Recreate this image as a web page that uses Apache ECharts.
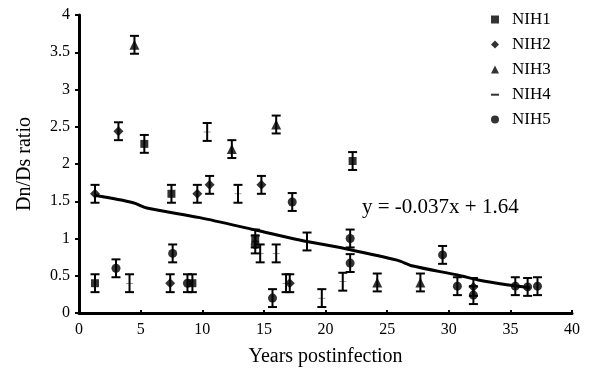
<!DOCTYPE html>
<html>
<head>
<meta charset="utf-8">
<script src="https://cdn.jsdelivr.net/npm/echarts@6/dist/echarts.min.js"></script>
<style>
  html, body { margin: 0; padding: 0; background: #fff; }
  #chart { width: 602px; height: 374px; }
</style>
</head>
<body>
<div id="chart"></div>
<script>
// values
const nih1X = [1.3, 5.3, 7.5, 9.2, 14.3, 22.2];
const nih1Y = [0.4, 2.27, 1.6, 0.4, 1.0, 2.04];
const nih2X = [1.3, 3.2, 7.4, 9.6, 10.6, 14.8, 17.1, 32.0];
const nih2Y = [1.6, 2.44, 0.4, 1.6, 1.72, 1.72, 0.4, 0.35];
const nih3X = [4.5, 12.4, 16.0, 24.2, 27.7];
const nih3Y = [3.6, 2.2, 2.53, 0.41, 0.41];
const nih4X = [4.1, 10.4, 12.9, 14.7, 16.0, 16.8, 18.5, 19.7, 21.4];
const nih4Y = [0.4, 2.43, 1.6, 0.8, 0.8, 0.4, 0.96, 0.2, 0.42];
const nih5X = [3.0, 7.6, 8.8, 14.3, 15.7, 17.3, 22.0, 22.0, 29.5, 30.7, 32.0, 35.4, 36.4, 37.2];
const nih5Y = [0.6, 0.8, 0.4, 0.92, 0.2, 1.49, 1.0, 0.67, 0.78, 0.36, 0.24, 0.36, 0.35, 0.36];
const errSize = 0.12;

// trend line as traced on the picture
const trendX = [1.3, 4.4, 5.5, 9.8, 14.4, 17.9, 22.0, 25.8, 27.1, 30.7, 32.5, 34.7, 36.6];
const trendY = [1.58, 1.48, 1.41, 1.28, 1.11, 0.98, 0.85, 0.71, 0.63, 0.51, 0.44, 0.38, 0.34];

const names = ['NIH1', 'NIH2', 'NIH3', 'NIH4', 'NIH5'];
const xTicks = [0, 5, 10, 15, 20, 25, 30, 35, 40];
const equation = 'y = -0.037x + 1.64';

const FONT = 'Liberation Serif';
const dashIcon = 'path://M0,0M10,10M0,4L10,4L10,6.5L0,6.5Z';
const icons = ['rect', 'diamond', 'triangle', dashIcon, 'circle'];
const sizes = [8, 10, 10, [7, 2], 9];
const sets = [[nih1X, nih1Y], [nih2X, nih2Y], [nih3X, nih3Y], [nih4X, nih4Y], [nih5X, nih5Y]];

function errorBar(params, api) {
  const x = api.value(0);
  const top = api.coord([x, api.value(2)]);
  const bot = api.coord([x, api.value(1)]);
  const w = 4.5;
  const style = { stroke: '#000', lineWidth: 2 };
  return {
    type: 'group',
    children: [
      { type: 'line', shape: { x1: top[0], y1: top[1], x2: bot[0], y2: bot[1] }, style: style },
      { type: 'line', shape: { x1: top[0] - w, y1: top[1], x2: top[0] + w, y2: top[1] }, style: style },
      { type: 'line', shape: { x1: bot[0] - w, y1: bot[1], x2: bot[0] + w, y2: bot[1] }, style: style }
    ]
  };
}

const series = [];
sets.forEach(function (s, i) {
  const xs = s[0], ys = s[1];
  series.push({
    name: names[i] + ' err',
    type: 'custom',
    renderItem: errorBar,
    encode: { x: 0, y: [1, 2] },
    data: xs.map(function (x, k) { return [x, ys[k] - errSize, ys[k] + errSize]; }),
    silent: true,
    z: 2
  });
  series.push({
    name: names[i],
    type: 'scatter',
    symbol: icons[i],
    symbolSize: sizes[i],
    itemStyle: { color: '#000' },
    data: xs.map(function (x, k) { return [x, ys[k]]; }),
    z: 3
  });
});

series.push({
  name: 'trend',
  type: 'line',
  smooth: 0.3,
  symbol: 'none',
  lineStyle: { color: '#000', width: 3 },
  data: trendX.map(function (x, k) { return [x, trendY[k]]; }),
  z: 1
});

const chart = echarts.init(document.getElementById('chart'));
chart.setOption({
  animation: false,
  textStyle: { fontFamily: FONT, color: '#000' },
  grid: { left: 79, right: 30, top: 15, bottom: 61 },
  legend: {
    orient: 'vertical',
    left: 486,
    top: 6,
    itemWidth: 8,
    itemHeight: 8,
    itemGap: 8,
    textStyle: { fontFamily: FONT, fontSize: 17, color: '#000', padding: [0, 0, 0, 8] },
    data: names.map(function (n, i) { return { name: n, icon: icons[i] }; })
  },
  xAxis: {
    type: 'value',
    min: 0,
    max: 40,
    interval: 5,
    name: 'Years postinfection',
    nameLocation: 'middle',
    nameGap: 34,
    nameTextStyle: { fontFamily: FONT, fontSize: 20, color: '#000' },
    axisLine: { lineStyle: { color: '#000', width: 3 } },
    axisTick: { show: true, inside: true, length: 3, lineStyle: { color: '#000', width: 2 } },
    axisLabel: {
      fontFamily: FONT, fontSize: 16, color: '#000', margin: 9,
      formatter: function (v) { return xTicks.indexOf(v) >= 0 ? String(v) : ''; }
    },
    splitLine: { show: false }
  },
  yAxis: {
    type: 'value',
    min: 0,
    max: 4,
    interval: 0.5,
    name: 'Dn/Ds ratio',
    nameLocation: 'middle',
    nameGap: 44,
    nameRotate: 90,
    nameTextStyle: { fontFamily: FONT, fontSize: 20, color: '#000' },
    axisLine: { show: true, lineStyle: { color: '#000', width: 3 } },
    axisTick: { show: true, length: 4, lineStyle: { color: '#000', width: 2 } },
    axisLabel: { fontFamily: FONT, fontSize: 16, color: '#000', margin: 9 },
    splitLine: { show: false }
  },
  graphic: [{
    type: 'text',
    left: 362,
    top: 197,
    style: { text: equation, fontFamily: FONT, fontSize: 21, fill: '#000' }
  }],
  series: series
});
</script>
</body>
</html>
